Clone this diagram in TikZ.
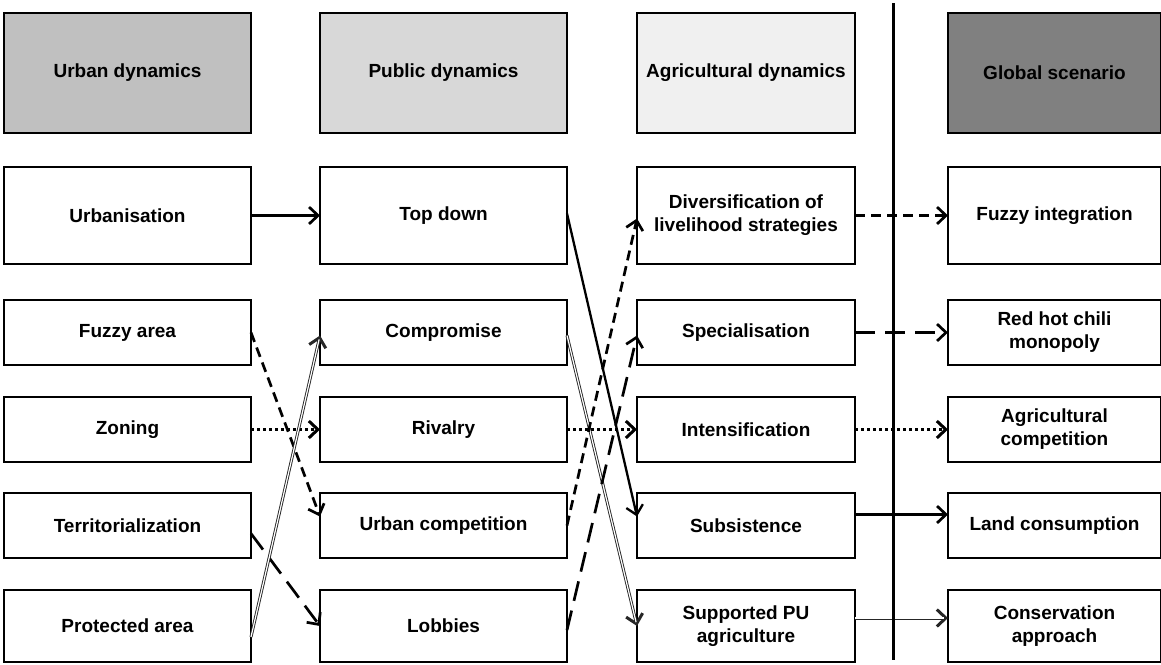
\documentclass[tikz,border=0pt]{standalone}
\usepackage{fontspec}
\setmainfont{Liberation Sans}
\usetikzlibrary{positioning,arrows.meta}

\definecolor{urbgray}{HTML}{C0C0C0}
\definecolor{pubgray}{HTML}{D8D8D8}
\definecolor{agrgray}{HTML}{F0F0F0}
\definecolor{globgray}{HTML}{808080}

\tikzset{
  box/.style={draw, line width=2pt, outer sep=0pt, inner sep=2pt, align=center, minimum width=247pt},
  agrbox/.style={minimum width=218pt},
  globbox/.style={minimum width=213pt},
  headbox/.style={box, line width=1.5pt, minimum height=120pt},
  rone/.style={box, minimum height=97pt},
  rmid/.style={box, minimum height=65pt},
  rlast/.style={box, minimum height=72pt},
  link/.style={-{Straight Barb[length=9pt,width=17pt]}, line width=2.7pt},
  dashlink/.style={link, dash pattern=on 10pt off 6pt},
  longdash/.style={link, dash pattern=on 20pt off 10pt},
  dotlink/.style={link, line width=3pt, dash pattern=on 3pt off 3pt},
  % double line: dark stroke, white core laid over it
  dbl/.style={link, line width=3pt, draw=black!85,
    postaction={draw=white, line width=1.2pt, -, shorten >=4pt}}
}

\begin{document}
\begin{tikzpicture}[x=1pt, y=-1pt, font={\bfseries\fontsize{19pt}{23pt}\selectfont}]
    \useasboundingbox (0,0) rectangle (1161,664);

    \node [headbox, fill=urbgray] (urb_h) at (127.5,73) {Urban dynamics};
    \node [headbox, fill=pubgray, right=69pt of urb_h] (pub_h) {Public dynamics};
    \node [headbox, agrbox, fill=agrgray, right=70pt of pub_h] (agr_h) {Agricultural dynamics};
    \node [headbox, globbox, fill=globgray, right=93pt of agr_h] (glob_h) {Global scenario};

    \node [rone, below=34pt of urb_h] (urban) {Urbanisation};
    \node [rone, right=69pt of urban] (topdown) {Top down};
    \node [rone, agrbox, right=70pt of topdown] (divers) {Diversification of\\livelihood strategies};
    \node [rone, globbox, right=93pt of divers] (fuzint) {Fuzzy integration};

    \node [rmid, below=36pt of urban] (fuzzy) {Fuzzy area};
    \node [rmid, right=69pt of fuzzy] (compro) {Compromise};
    \node [rmid, agrbox, right=70pt of compro] (special) {Specialisation};
    \node [rmid, globbox, right=93pt of special] (chili) {Red hot chili\\monopoly};

    \node [rmid, below=32pt of fuzzy] (zoning) {Zoning};
    \node [rmid, right=69pt of zoning] (rival) {Rivalry};
    \node [rmid, agrbox, right=70pt of rival] (intens) {Intensification};
    \node [rmid, globbox, right=93pt of intens] (agcomp) {Agricultural\\competition};

    \node [rmid, below=31pt of zoning] (territ) {Territorialization};
    \node [rmid, right=69pt of territ] (urbcomp) {Urban competition};
    \node [rmid, agrbox, right=70pt of urbcomp] (subsist) {Subsistence};
    \node [rmid, globbox, right=93pt of subsist] (landc) {Land consumption};

    \node [rlast, below=32pt of territ] (protect) {Protected area};
    \node [rlast, right=69pt of protect] (lobby) {Lobbies};
    \node [rlast, agrbox, right=70pt of lobby] (suppu) {Supported PU\\agriculture};
    \node [rlast, globbox, right=93pt of suppu] (conserv) {Conservation\\approach};

    % urban -> public
    \draw [link] (urban.east) -- (topdown.west);
    \draw [dashlink] (fuzzy.east) -- ([yshift=9pt]urbcomp.west);
    \draw [dotlink] (zoning) -- (rival);
    \draw [longdash] ([yshift=-8pt]territ.east) -- (lobby.west);
    \draw [dbl] ([yshift=-11pt]protect.east) -- ([yshift=-3pt]compro.west);

    % public -> agricultural
    \draw [link, line width=2.3pt] ([yshift=2pt]topdown.east) -- ([yshift=9pt]subsist.west);
    \draw [dbl] ([yshift=-3pt]compro.east) -- (suppu.west);
    \draw [dotlink] (rival) -- (intens);
    \draw [dashlink] (urbcomp.east) -- ([yshift=-3pt]divers.west);
    \draw [longdash] ([yshift=-4pt]lobby.east) -- ([yshift=-3pt]special.west);

    % agricultural -> global
    \draw [dashlink] (divers) -- (fuzint);
    \draw [longdash] (special) -- (chili);
    \draw [dotlink] (intens) -- (agcomp);
    \draw [link] ([yshift=11pt]subsist.east) -- ([yshift=11pt]landc.west);
    \draw [dbl] ([yshift=8pt]suppu.east) -- ([yshift=8pt]conserv.west);

    \coordinate (sep_top) at (893,3);
    \coordinate (sep_bot) at (893,660);
    \draw [line width=3pt] (sep_top) -- (sep_bot);

\end{tikzpicture}
\end{document}
